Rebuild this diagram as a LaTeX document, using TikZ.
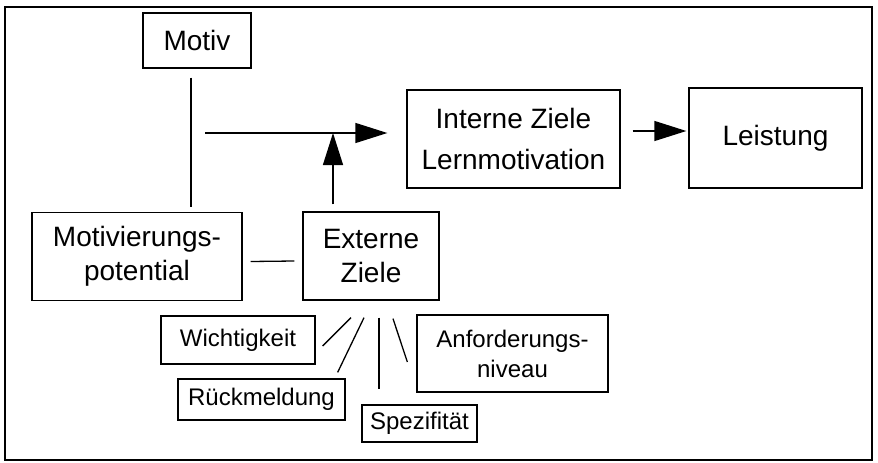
\documentclass[tikz,border=0pt]{standalone}
\usepackage{fontspec}
\setmainfont{Liberation Sans}
\usetikzlibrary{arrows.meta,calc}
\begin{document}
\begin{tikzpicture}[x=1pt,y=-1pt,
  box/.style={draw,line width=1.3pt,inner sep=0pt,align=center,font=\fontsize{28}{34}\selectfont},
  smallbox/.style={box,font=\fontsize{24}{30}\selectfont},
  arr/.style={-{Triangle[length=32pt,width=20pt]}},
  line width=1.3pt]
\useasboundingbox (0,0) rectangle (878,463);
\draw[line width=1.6pt] (5,7) rectangle (872,460);
% boxes
\node[box,minimum width=108,minimum height=55] (motiv) at (197,40.5) {Motiv};
\node[box,minimum width=210,minimum height=88] (motpot) at (137,256.5) {Motivierungs-\\potential};
\node[box,minimum width=136,minimum height=88] (extern) at (371,256) {Externe\\Ziele};
\node[box,minimum width=213,minimum height=98,font=\fontsize{28}{41}\selectfont] (intern) at (513.5,139) {Interne Ziele\\Lernmotivation};
\node[box,minimum width=173,minimum height=100] (leistung) at (775.5,138) {Leistung};
\node[smallbox,minimum width=154,minimum height=48] (wicht) at (238,340) {Wichtigkeit};
\node[smallbox,minimum width=167,minimum height=41] (rueck) at (261.5,399.5) {Rückmeldung};
\node[smallbox,minimum width=115,minimum height=37] (spez) at (419.5,423.5) {Spezifität};
\node[smallbox,minimum width=191,minimum height=77] (anford) at (512.5,353.5) {Anforderungs-\\niveau};
% connectors
\coordinate (split) at (205,133);
\coordinate (exfoot) at ($(extern.north)+(-38,-7)$);
\draw ($(motiv.south)+(-6,9)$) -- ($(motiv.south |- motpot.north)+(-6,-5)$);
\draw[arr,shorten >=19pt] (split) -- (split -| intern.west);
\draw[arr] (exfoot) -- (exfoot |- split);
\draw[arr] ($(intern.east)+(12,-8)$) -- ($(leistung.west)+(-2,-7)$);
\draw ($(motpot.east)+(8,5)$) -- ($(extern.west)+(-8,5)$);
\draw ($(extern.south)+(-20,17)$) -- ($(wicht.east)+(7,6)$);
\draw ($(extern.south)+(-7,17)$) -- ($(rueck.north east)+(-8,-6)$);
\draw ($(extern.south)+(8,17)$) -- ($(spez.north)+(-40.5,-15)$);
\draw ($(extern.south)+(22,18)$) -- ($(anford.west)+(-9,8.5)$);
\end{tikzpicture}
\end{document}
